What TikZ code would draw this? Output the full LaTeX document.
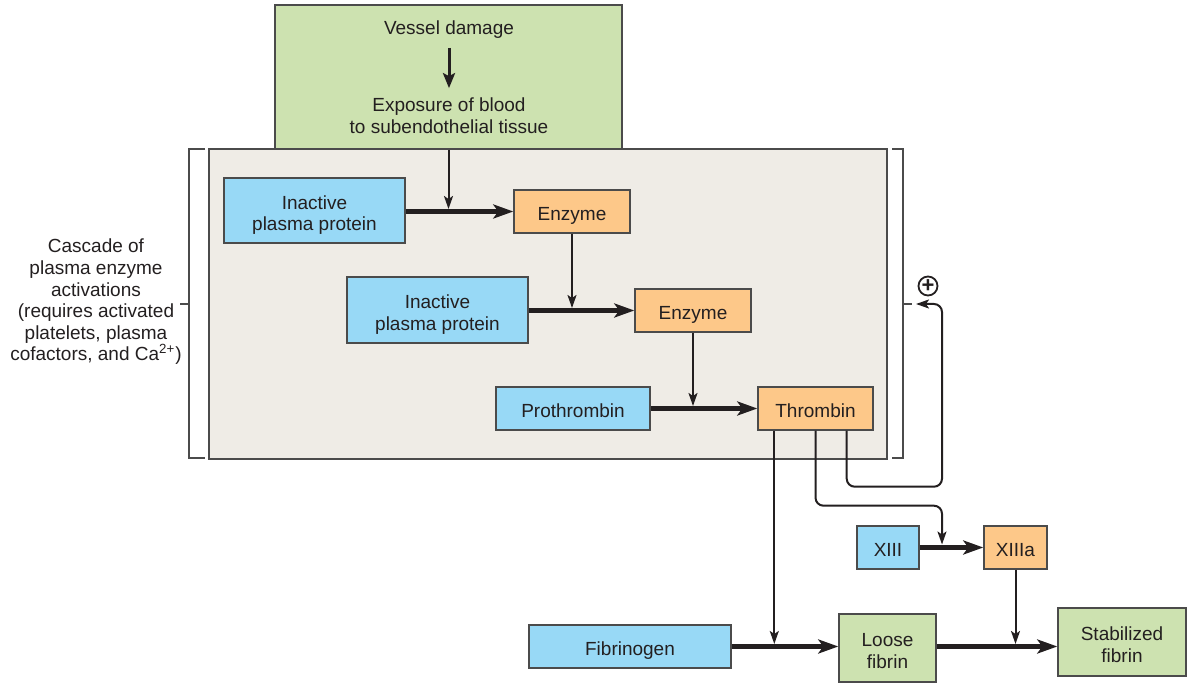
\documentclass[tikz,border=0pt]{standalone}
\usepackage{fontspec}
\setmainfont{Liberation Sans}
\usepackage{xcolor}
\usetikzlibrary{arrows.meta,positioning}
\definecolor{plasmablue}{RGB}{152,217,246}
\definecolor{enzymeorange}{RGB}{253,200,137}
\definecolor{fibringreen}{RGB}{205,226,176}
\definecolor{cascadegray}{RGB}{239,236,230}
\definecolor{inkdark}{RGB}{35,31,32}
\definecolor{edgegray}{RGB}{75,75,75}

\tikzset{
    caption/.style={text=inkdark, align=center, font=\fontsize{9.5}{10.8}\selectfont},
    factorbox/.style={caption, rectangle, draw=edgegray, line width=0.7pt, inner sep=0pt, text depth=0pt, text height=8.6pt},
    twolines/.style={text height=20.2pt},
    protein/.style={factorbox, fill=plasmablue},
    enzyme/.style={factorbox, fill=enzymeorange},
    fibrin/.style={factorbox, fill=fibringreen},
    bracket/.style={draw=edgegray, line width=0.6pt},
    convert/.style={draw=inkdark, line width=2.5pt, -{Stealth[length=10pt,width=7pt,inset=2.5pt]}},
    trigger/.style={draw=inkdark, line width=1pt, -{Stealth[length=6.5pt,width=4.5pt,inset=1.5pt]}},
}

\begin{document}
\begin{tikzpicture}[x=0.5pt, y=-0.5pt]
    \useasboundingbox (0,0) rectangle (1189,683);

    % panel holding the enzyme cascade
    \node[rectangle, draw=edgegray, line width=0.7pt, fill=cascadegray, minimum width=339pt, minimum height=155pt, inner sep=0pt] (cascade) at (548,304) {};

    % brackets on both sides of the panel
    \draw[bracket] (205,149) -- (189,149) -- (189,458) -- (205,458);
    \draw[bracket] (180,304) -- (189,304);
    \draw[bracket] (892,149) -- (903,149) -- (903,458) -- (892,458);
    \draw[bracket] (903,304) -- (912,304);

    \node[caption] (cascadelabel) at (96,302) {Cascade of\\plasma enzyme\\activations\\(requires activated\\platelets, plasma\\cofactors, and Ca\textsuperscript{2+})};

    % trigger on top
    \node[rectangle, draw=edgegray, line width=0.7pt, fill=fibringreen, minimum width=173.5pt, minimum height=72pt] (injury) at (448.5,77) {};
    \node[caption] (vessel) at (449,30) {Vessel damage};
    \node[caption] (exposure) at (449,116) {Exposure of blood\\to subendothelial tissue};
    \draw[draw=inkdark, line width=1.5pt, -{Stealth[length=7.5pt,width=6pt,inset=1.5pt]}, shorten <=1pt, shorten >=1.5pt] (vessel) -- (exposure);

    % cascade
    \node[protein, twolines, minimum width=90.5pt, minimum height=32.5pt] (inactiveA) at (314.5,210.5) {Inactive\\plasma protein};
    \node[enzyme, minimum width=58pt, minimum height=21.5pt] (enzymeA) at (572,211.5) {Enzyme};
    \node[protein, twolines, minimum width=90.5pt, minimum height=33pt] (inactiveB) at (437.5,310) {Inactive\\plasma protein};
    \node[enzyme, minimum width=58pt, minimum height=21.5pt] (enzymeB) at (693,310.5) {Enzyme};
    \node[protein, minimum width=77pt, minimum height=21.5pt] (prothrombin) at (573,408.5) {Prothrombin};
    \node[enzyme, minimum width=57.5pt, minimum height=21.5pt] (thrombin) at (815.5,408.5) {Thrombin};

    % clot formation
    \node[protein, minimum width=31pt, minimum height=21.5pt] (factorXIII) at (888,547.5) {XIII};
    \node[enzyme, minimum width=31.5pt, minimum height=21.5pt] (factorXIIIa) at (1015.5,547.5) {XIIIa};
    \node[protein, minimum width=101pt, minimum height=21.5pt] (fibrinogen) at (630,646.5) {Fibrinogen};
    \node[fibrin, twolines, minimum width=48.5pt, minimum height=34pt] (loosefibrin) at (887.5,648) {Loose\\fibrin};
    \node[fibrin, twolines, minimum width=64pt, minimum height=34pt] (stablefibrin) at (1122,642) {Stabilized\\fibrin};

    \coordinate (xiiiJoin) at (942,547);
    \coordinate (fbturn) at (942,304);
    \coordinate (fbend) at (916,304);

    % conversions
    \draw[convert] (inactiveA.east |- enzymeA.west) -- (enzymeA.west);
    \draw[convert] (inactiveB.east |- enzymeB.west) -- (enzymeB.west);
    \draw[convert] (prothrombin.east) -- (thrombin.west);
    \draw[convert] (factorXIII.east) -- (factorXIIIa.west);
    \draw[convert] (fibrinogen.east) -- (fibrinogen.east -| loosefibrin.west);
    \draw[convert] (fibrinogen.east -| loosefibrin.east) -- (fibrinogen.east -| stablefibrin.west);

    % activations
    \draw[trigger] (injury.south) -- ([yshift=1.25pt]injury.south |- enzymeA.west);
    \draw[trigger] (enzymeA.south) -- ([yshift=1.25pt]enzymeA.south |- enzymeB.west);
    \draw[trigger] (enzymeB.south) -- ([yshift=1.25pt]enzymeB.south |- thrombin.west);
    \draw[trigger] ([xshift=8.5pt]thrombin.south west) -- ([xshift=8.5pt,yshift=1.25pt]thrombin.south west |- fibrinogen.east);
    \draw[trigger, rounded corners=4pt] (thrombin.south) -- ++(0,75) -| ([yshift=1.25pt]xiiiJoin);
    \draw[trigger] (factorXIIIa.south) -- ([yshift=1.25pt]factorXIIIa.south |- fibrinogen.east);

    % positive feedback
    \draw[trigger, rounded corners=4pt] ([xshift=-13.5pt]thrombin.south east) -- ++(0,56) -| (fbturn) -- (fbend);
    \node[circle, draw=inkdark, line width=0.9pt, minimum size=9.5pt, inner sep=0pt, text=inkdark, font=\bfseries\fontsize{11}{11}\selectfont] (plus) at (928,286) {+};
\end{tikzpicture}
\end{document}
